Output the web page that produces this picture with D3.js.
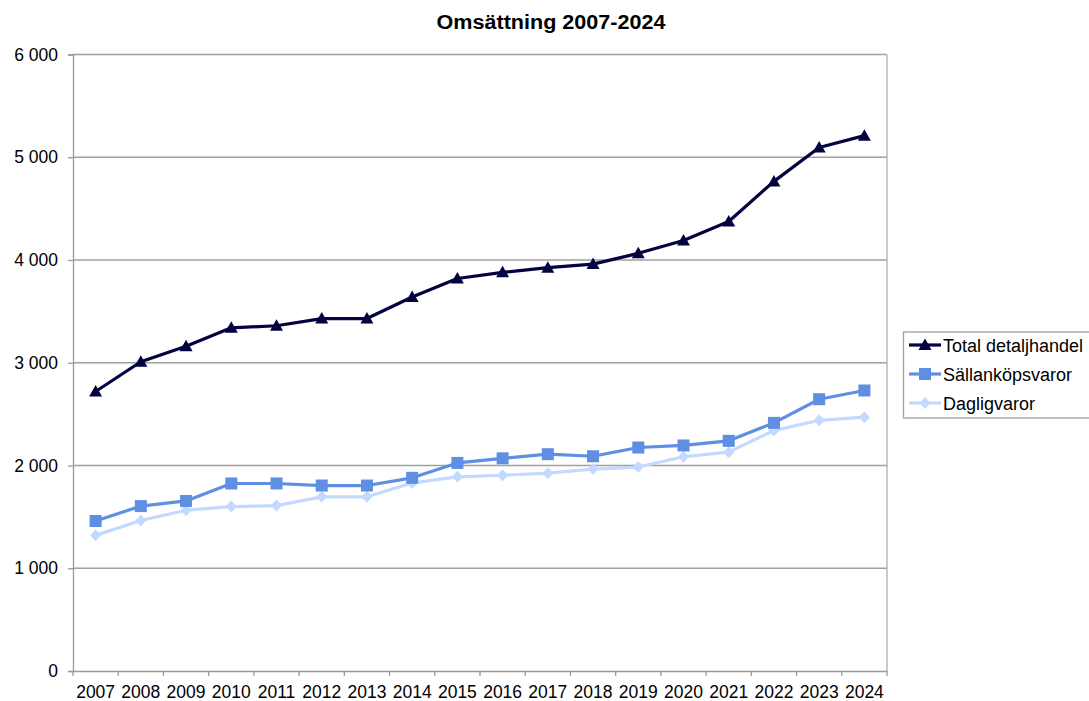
<!DOCTYPE html>
<html>
<head>
<meta charset="utf-8">
<script src="https://cdn.jsdelivr.net/npm/d3@7"></script>
<style>
  html, body { margin: 0; padding: 0; background: #fff; }
  svg { display: block; font-family: "Liberation Sans", Arial, sans-serif; }
</style>
</head>
<body>
<svg id="chart" width="1089" height="701"></svg>
<script>
// Turnover by year, retail trade
const years = ["2007","2008","2009","2010","2011","2012","2013","2014","2015","2016","2017","2018","2019","2020","2021","2022","2023","2024"];
const totalDetaljhandel = [2720, 3010, 3160, 3340, 3360, 3430, 3430, 3640, 3820, 3880, 3925, 3960, 4065, 4190, 4375, 4765, 5095, 5210];
const sallankopsvaror = [1460, 1605, 1655, 1825, 1825, 1805, 1805, 1880, 2025, 2070, 2110, 2090, 2175, 2195, 2240, 2415, 2645, 2730];
const dagligvaror = [1320, 1465, 1565, 1600, 1610, 1695, 1695, 1830, 1890, 1905, 1925, 1965, 1985, 2085, 2130, 2340, 2440, 2470];
const yTicks = [0, 1000, 2000, 3000, 4000, 5000, 6000];
const seriesNames = ["Total detaljhandel", "Sällanköpsvaror", "Dagligvaror"];

const seriesList = [
  { name: seriesNames[0], values: totalDetaljhandel, color: "#03033f", marker: "triangle" },
  { name: seriesNames[1], values: sallankopsvaror, color: "#5f8fe3", marker: "square" },
  { name: seriesNames[2], values: dagligvaror, color: "#c3d9ff", marker: "diamond" }
];

const svg = d3.select("#chart");
const plot = { left: 73, right: 887, top: 54.5, bottom: 671 };

const x = d3.scaleBand().domain(years).range([plot.left, plot.right]);
const y = d3.scaleLinear().domain([0, 6000]).range([plot.bottom, plot.top]);
const fmt = v => d3.format(",")(v).replace(/,/g, " ");

// Title
svg.append("text")
  .attr("x", 551).attr("y", 29)
  .attr("text-anchor", "middle")
  .attr("font-weight", "bold")
  .attr("font-size", 19.5)
  .attr("textLength", 229)
  .attr("lengthAdjust", "spacingAndGlyphs")
  .attr("fill", "#000")
  .text("Omsättning 2007-2024");

// Horizontal gridlines
svg.append("g")
  .selectAll("line")
  .data(yTicks.filter(t => t > 0))
  .join("line")
  .attr("x1", plot.left).attr("x2", plot.right)
  .attr("y1", d => y(d)).attr("y2", d => y(d))
  .attr("stroke", "#a0a0a0").attr("stroke-width", 1.3);

// Right border of the plot area
svg.append("line")
  .attr("x1", plot.right).attr("x2", plot.right)
  .attr("y1", plot.top).attr("y2", plot.bottom)
  .attr("stroke", "#b0b0b0").attr("stroke-width", 1.3);

// Y axis
const yAxis = svg.append("g")
  .attr("transform", `translate(${plot.left},0)`)
  .call(d3.axisLeft(y).tickValues(yTicks).tickFormat(fmt).tickSize(5).tickPadding(10));
yAxis.select(".domain").attr("stroke", "#999").attr("stroke-width", 1.3);
yAxis.selectAll(".tick line").attr("stroke", "#999").attr("stroke-width", 1.3);
yAxis.selectAll(".tick text")
  .attr("font-size", 17.5).attr("fill", "#000")
  .attr("font-family", "Liberation Sans, Arial, sans-serif");

// X axis with ticks on category boundaries
const xAxis = svg.append("g")
  .attr("transform", `translate(0,${plot.bottom})`)
  .call(d3.axisBottom(x).tickSize(0).tickPadding(15));
xAxis.select(".domain").attr("stroke", "#999").attr("stroke-width", 1.3);
xAxis.selectAll(".tick text")
  .attr("font-size", 17.5).attr("fill", "#000")
  .attr("font-family", "Liberation Sans, Arial, sans-serif");
const bounds = years.map(yr => x(yr)).concat([plot.right]);
xAxis.append("g")
  .selectAll("line")
  .data(bounds)
  .join("line")
  .attr("x1", d => d).attr("x2", d => d)
  .attr("y1", 0).attr("y2", 5)
  .attr("stroke", "#999").attr("stroke-width", 1.3);

// Marker shapes
function markerPath(type) {
  if (type === "triangle") return "M0,-6.5L6.5,5L-6.5,5Z";
  if (type === "square") return "M-6,-6H6V6H-6Z";
  return "M0,-6L5.5,0L0,6L-5.5,0Z";
}

const line = d3.line()
  .x((d, i) => x(years[i]) + x.bandwidth() / 2)
  .y(d => y(d));

// Draw back-to-front so the darkest series sits on top
[...seriesList].reverse().forEach(s => {
  const g = svg.append("g");
  g.append("path")
    .datum(s.values)
    .attr("fill", "none")
    .attr("stroke", s.color)
    .attr("stroke-width", 3.2)
    .attr("stroke-linejoin", "round")
    .attr("d", line);
  g.selectAll("path.m")
    .data(s.values)
    .join("path")
    .attr("class", "m")
    .attr("transform", (d, i) => `translate(${x(years[i]) + x.bandwidth() / 2},${y(d)})`)
    .attr("d", markerPath(s.marker))
    .attr("fill", s.color);
});

// Legend
const legend = svg.append("g");
legend.append("rect")
  .attr("x", 903.5).attr("y", 332)
  .attr("width", 200).attr("height", 86)
  .attr("fill", "#fff")
  .attr("stroke", "#a0a0a0").attr("stroke-width", 1.3);
seriesList.forEach((s, i) => {
  const cy = 345 + i * 29;
  const row = legend.append("g");
  row.append("line")
    .attr("x1", 909).attr("x2", 941)
    .attr("y1", cy).attr("y2", cy)
    .attr("stroke", s.color).attr("stroke-width", 3.2);
  row.append("path")
    .attr("transform", `translate(925,${cy})`)
    .attr("d", markerPath(s.marker))
    .attr("fill", s.color);
  row.append("text")
    .attr("x", 943).attr("y", cy + 6.5)
    .attr("font-size", 18).attr("fill", "#000")
    .text(s.name);
});
</script>
</body>
</html>
